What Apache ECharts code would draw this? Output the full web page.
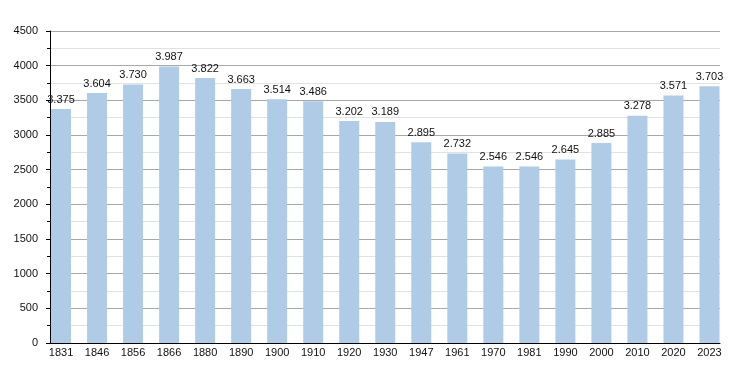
<!DOCTYPE html>
<html><head><meta charset="utf-8">
<script src="https://cdn.jsdelivr.net/npm/echarts@6/dist/echarts.min.js"></script>
<style>html,body{margin:0;padding:0;background:#fff}#c{width:750px;height:373px}</style>
</head><body><div id="c"></div>
<script>
const years = ['1831','1846','1856','1866','1880','1890','1900','1910','1920','1930','1947','1961','1970','1981','1990','2000','2010','2020','2023'];
const population = [3375,3604,3730,3987,3822,3663,3514,3486,3202,3189,2895,2732,2546,2546,2645,2885,3278,3571,3703];
const yMax = 4500;
const yStep = 500;

const fmt = v => String(v).replace(/\B(?=(\d{3})+(?!\d))/g, '.');
const font = 'Liberation Sans, Arial, sans-serif';

const chart = echarts.init(document.getElementById('c'));
chart.setOption({
  animation: false,
  backgroundColor: '#fff',
  grid: [
    {left: 50, right: 30, top: 31, bottom: 30},
    {left: 43, right: 22.5, top: 31, bottom: 30}
  ],
  xAxis: [
    {gridIndex: 0, type: 'value', min: 0, max: 1,
     axisLine: {show: true, onZero: false, lineStyle: {color: '#000', width: 1}},
     axisTick: {show: false}, axisLabel: {show: false}, splitLine: {show: false}},
    {gridIndex: 1, type: 'category', data: years, boundaryGap: true,
     axisLine: {show: false}, axisTick: {show: false},
     axisLabel: {color: '#111', fontSize: 11, fontFamily: font, margin: 4, interval: 0}}
  ],
  yAxis: [
    {gridIndex: 0, type: 'value', min: 0, max: yMax, interval: yStep,
     axisLine: {show: true, lineStyle: {color: '#000', width: 1}},
     axisTick: {show: true, length: 4, lineStyle: {color: '#000'}},
     minorTick: {show: true, splitNumber: 2, length: 3, lineStyle: {color: '#000'}},
     minorSplitLine: {show: true, lineStyle: {color: '#e2e2e2', width: 1}},
     splitLine: {show: true, lineStyle: {color: '#a8a8a8', width: 1}},
     axisLabel: {color: '#111', fontSize: 11, fontFamily: font, margin: 12, formatter: v => String(v)}},
    {gridIndex: 1, type: 'value', min: 0, max: yMax, show: false}
  ],
  series: [{
    type: 'bar', xAxisIndex: 1, yAxisIndex: 1,
    data: population, barWidth: 20,
    itemStyle: {color: '#b0cbe6'},
    label: {show: true, position: 'top', distance: 4, color: '#111', fontSize: 11, fontFamily: font,
            formatter: p => fmt(p.value)}
  }]
});
</script></body></html>
